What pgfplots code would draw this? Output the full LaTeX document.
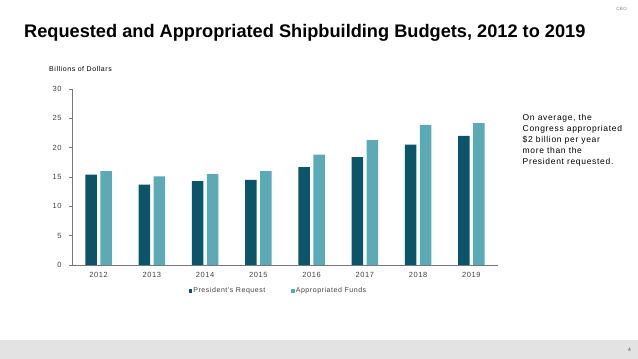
\documentclass[border=0pt]{standalone}
\usepackage{pgfplots}
\pgfplotsset{compat=1.18}
\usepackage{fontspec}
\setmainfont[LetterSpace=8]{Liberation Sans}
\newfontfamily\titlefont{Liberation Sans}
\definecolor{darkbar}{RGB}{12,84,106}
\definecolor{lightbar}{RGB}{92,170,181}
\definecolor{axisgray}{RGB}{120,120,120}
\definecolor{ticktext}{RGB}{64,64,64}
\definecolor{band}{RGB}{227,227,227}
\begin{document}
\begin{tikzpicture}[x=1pt,y=1pt]
\useasboundingbox (0,0) rectangle (638,359);
\fill[white] (0,0) rectangle (638,359);
\fill[band] (0,0) rectangle (638,18.5);
\node[anchor=east,inner sep=0pt,font=\fontsize{4.5}{5}\selectfont,text=gray] at (627,350) {CBO};
\node[anchor=east,inner sep=0pt,font=\fontsize{5}{6}\selectfont,text=ticktext] at (631,9) {4};
\node[anchor=base west,inner sep=0pt,font=\titlefont\fontsize{18.2}{21}\selectfont\bfseries] at (24,321.5) {Requested and Appropriated Shipbuilding Budgets, 2012 to 2019};
\node[anchor=base west,inner sep=0pt,font=\fontsize{7}{8}\selectfont] at (49,287.3) {Billions of Dollars};
\begin{scope}[every node/.style={anchor=base west,inner sep=0pt,font=\fontsize{8.5}{10}\selectfont}]
\node at (522.5,238.5) {On average, the};
\node at (522.5,227.5) {Congress appropriated};
\node at (522.5,216.5) {\$2 billion per year};
\node at (522.5,205.5) {more than the};
\node at (522.5,194.5) {President requested.};
\end{scope}
\begin{axis}[
  at={(72pt,94pt)}, anchor=south west,
  scale only axis, width=426pt, height=176pt,
  xmin=-0.5, xmax=7.5, ymin=0, ymax=30,
  xtick={0,...,7},
  xticklabels={2012,2013,2014,2015,2016,2017,2018,2019},
  ytick={0,5,...,30},
  axis x line*=bottom, axis y line*=left,
  axis line style={axisgray, line width=0.6pt},
  x axis line style={-}, y axis line style={-},
  xtick style={draw=none},
  ytick style={axisgray, line width=0.5pt},
  tick align=outside, major tick length=3pt,
  tick label style={font=\fontsize{7.5}{9}\selectfont, text=ticktext},
  /pgf/number format/assume math mode=true,
  xticklabel style={yshift=-1pt},
  yticklabel style={xshift=-4pt},
  ybar, bar width=11.5pt,
  legend style={at={(0.485,-0.147)}, anchor=center, draw=none, fill=none, legend columns=2,
    font=\fontsize{7}{8}\selectfont, text=ticktext,
    /tikz/every odd column/.append style={column sep=-1pt},
    /tikz/every even column/.append style={column sep=24pt}},
  legend image code/.code={\fill[#1] (0pt,-1.7pt) rectangle (3.4pt,1.7pt);},
]
\addplot[fill=darkbar, draw=none, bar shift=-7.5pt] coordinates {
(0,15.4) (1,13.7) (2,14.3) (3,14.5) (4,16.7) (5,18.4) (6,20.5) (7,22.0)};
\addlegendentry{President's Request}
\addplot[fill=lightbar, draw=none, bar shift=7.5pt] coordinates {
(0,16.0) (1,15.1) (2,15.5) (3,16.0) (4,18.8) (5,21.3) (6,23.9) (7,24.2)};
\addlegendentry{Appropriated Funds}
\end{axis}
\end{tikzpicture}
\end{document}
